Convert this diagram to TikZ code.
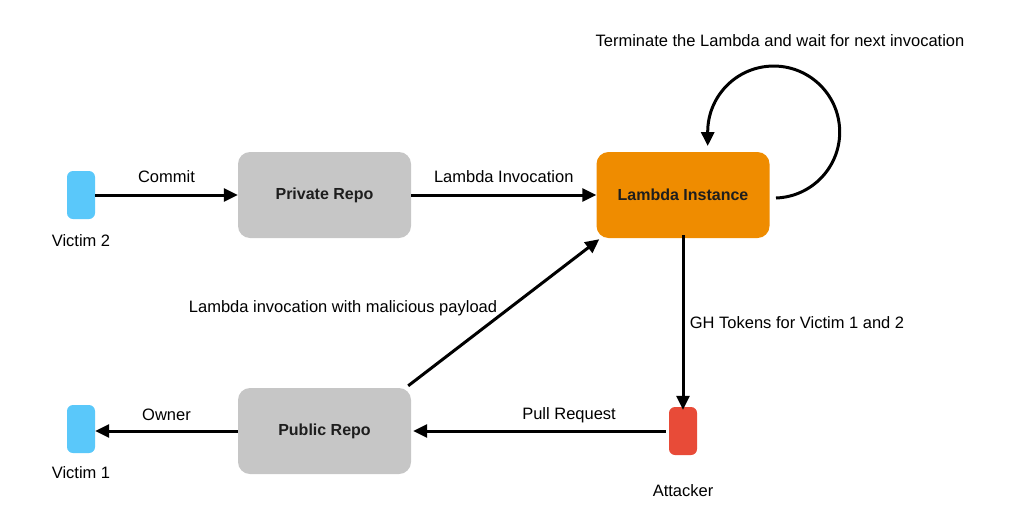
\documentclass[tikz,border=0pt]{standalone}
\usepackage{fontspec}
\setmainfont{Liberation Sans}
\usetikzlibrary{arrows.meta}
\definecolor{vblue}{HTML}{5AC8FA}
\definecolor{ared}{HTML}{E84B38}
\definecolor{lorange}{HTML}{EF8C00}
\definecolor{rgray}{HTML}{C6C6C6}
\definecolor{boxtext}{HTML}{1E1E1E}
\tikzset{
  repo/.style={rounded corners=12pt, minimum width=173pt, minimum height=86pt, inner sep=0pt, text=boxtext, font=\fontsize{16}{19}\selectfont\bfseries},
  actor/.style={rounded corners=6pt, minimum width=28pt, minimum height=48pt, inner sep=0pt},
  lbl/.style={font=\fontsize{16.5}{19}\selectfont, inner sep=0pt},
  conn/.style={line width=3pt, -{Triangle[length=14pt,width=13pt]}}
}
\begin{document}
\begin{tikzpicture}[x=1pt,y=-1pt]
\useasboundingbox (0,0) rectangle (1024,522);
\node[actor, fill=vblue] (v2) at (81,195) {};
\node[lbl] (v2l) at (81,241) {Victim 2};
\node[repo, fill=rgray] (priv) at (324.5,195) {Private Repo};
\node[repo, fill=lorange] (lam) at (683,195) {Lambda Instance};
\node[repo, fill=rgray] (pub) at (324.5,431) {Public Repo};
\node[actor, fill=vblue] (v1) at (81,429) {};
\node[lbl] (v1l) at (81,473) {Victim 1};
\node[actor, fill=ared] (att) at (683,431) {};
\node[lbl] (attl) at (683,491) {Attacker};
\coordinate (loopS) at (776,198);
\draw[conn] (loopS) arc[start angle=88, end angle=-180, radius=66] -- ++(0,14);
\node[lbl] (term) at (780,41) {Terminate the Lambda and wait for next invocation};
\draw[conn] (v2) -- (priv) node[lbl, pos=0.5, yshift=18pt] {Commit};
\draw[conn] (priv) -- (lam) node[lbl, pos=0.5, yshift=18pt] {Lambda Invocation};
\draw[conn] ([xshift=-3pt,yshift=2pt]pub.north east) -- ([xshift=3pt,yshift=-1pt]lam.south west);
\node[lbl] (mal) at (343,308) {Lambda invocation with malicious payload};
\draw[conn] ([yshift=3pt]lam.south) -- ([yshift=-3pt]att.north);
\node[lbl] (gh) at (797,323) {GH Tokens for Victim 1 and 2};
\draw[conn] ([xshift=-3pt]att.west) -- ([xshift=2pt]pub.east) node[lbl, pos=0.383, yshift=16pt] {Pull Request};
\draw[conn] (pub.west) -- (pub.west -| v1.east) node[lbl, pos=0.5, yshift=16pt] {Owner};
\end{tikzpicture}
\end{document}
